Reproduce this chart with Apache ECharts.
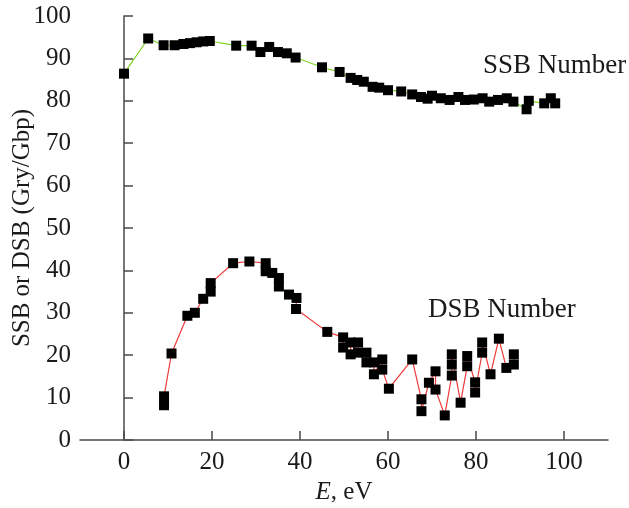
<!DOCTYPE html>
<html>
<head>
<meta charset="utf-8">
<script src="https://cdn.jsdelivr.net/npm/echarts@6/dist/echarts.min.js"></script>
<style>
  html, body { margin: 0; padding: 0; background: #fff; }
  #chart { width: 629px; height: 508px; }
</style>
</head>
<body>
<div id="chart"></div>
<script>
// Single-strand break yield vs. electron energy (E, eV)
const ssbEnergy = [0, 5.5, 9, 11.5, 13.5, 15, 16.5, 18, 19.5, 25.5, 29, 31, 33, 35, 37, 39,
  45, 49, 51.5, 53, 54.5, 56.5, 58, 60, 63, 65.5, 67.5, 69, 70, 72, 74, 76, 77.5, 79.5,
  81.5, 83, 85, 87, 88.5, 91.5, 92, 95.5, 97, 98];
const ssbValues = [86.4, 94.7, 93.1, 93.1, 93.4, 93.6, 93.8, 94, 94.1, 93, 93, 91.5, 92.7, 91.5, 91.2, 90.2,
  87.9, 86.8, 85.4, 84.9, 84.5, 83.3, 83.1, 82.5, 82.2, 81.5, 80.9, 80.5, 81.2, 80.6, 80.2, 80.9, 80.2, 80.3,
  80.6, 79.8, 80.2, 80.6, 79.8, 78, 80, 79.4, 80.6, 79.4];

// Double-strand break yield vs. electron energy
const dsbEnergy = [9.1, 9.1, 10.8, 14.4, 16.1, 18, 19.7, 19.7, 24.8, 28.5, 32.2, 32.2, 33.7, 35.2, 35.2,
  37.5, 39.2, 39.1, 46.2, 49.8, 49.8, 51.5, 51.5, 53.2, 53.2, 55.1, 55.1, 56.8, 56.8, 58.7, 58.7,
  60.2, 65.5, 67.6, 67.6, 69.3, 70.8, 70.8, 72.9, 74.5, 74.5, 74.5, 76.5, 78, 78, 79.8, 79.8,
  81.4, 81.4, 83.3, 85.2, 86.9, 88.6, 88.6];
const dsbValues = [8.2, 10.3, 20.4, 29.3, 30, 33.3, 35, 37, 41.7, 42.1, 41.7, 39.8, 39.4, 38.2, 36.2,
  34.3, 33.5, 30.9, 25.5, 24.2, 21.8, 23, 20.2, 23, 20.6, 20.6, 18.3, 18.3, 15.5, 19, 16.6,
  12.1, 19, 9.6, 6.8, 13.5, 16.2, 11.9, 5.8, 15.2, 17.8, 20.2, 8.8, 17.4, 19.8, 13.6, 11.2,
  20.6, 23, 15.5, 23.9, 17, 17.8, 20.2];

const xTickValues = [0, 20, 40, 60, 80, 100];
const yTickValues = [0, 10, 20, 30, 40, 50, 60, 70, 80, 90, 100];

const serif = '"Liberation Serif", "Times New Roman", serif';
const axisColor = '#4a4a4a';

const pairs = (xs, ys) => xs.map((x, i) => [x, ys[i]]);

const chart = echarts.init(document.getElementById('chart'), null, { renderer: 'canvas' });

chart.setOption({
  backgroundColor: '#ffffff',
  animation: false,
  grid: { left: 80, right: 21, top: 16, bottom: 68, containLabel: false, outerBoundsMode: 'none' },
  xAxis: {
    type: 'value',
    min: -10,
    max: 110,
    name: '{it|E}, eV',
    nameLocation: 'middle',
    nameGap: 40,
    nameMoveOverlap: false,
    nameTextStyle: {
      fontFamily: serif, fontSize: 25, color: '#1a1a1a',
      rich: { it: { fontFamily: serif, fontSize: 25, fontStyle: 'italic', color: '#1a1a1a' } }
    },
    axisLine: { show: true, onZero: false, lineStyle: { color: axisColor, width: 1.5 } },
    axisTick: { show: true, inside: true, length: 9, customValues: xTickValues,
      lineStyle: { color: axisColor, width: 1.5 } },
    axisLabel: { customValues: xTickValues, fontFamily: serif, fontSize: 25, color: '#1a1a1a', margin: 10 },
    splitLine: { show: false }
  },
  yAxis: {
    type: 'value',
    min: 0,
    max: 100,
    interval: 10,
    name: 'SSB or DSB (Gry/Gbp)',
    nameLocation: 'middle',
    nameGap: 45,
    nameMoveOverlap: false,
    nameTextStyle: { fontFamily: serif, fontSize: 25, color: '#1a1a1a' },
    axisLine: { show: true, lineStyle: { color: axisColor, width: 1.5 } },
    axisTick: { show: true, inside: true, length: 9, customValues: yTickValues,
      lineStyle: { color: axisColor, width: 1.5 } },
    axisLabel: { customValues: yTickValues, fontFamily: serif, fontSize: 25, color: '#1a1a1a', margin: 9 },
    splitLine: { show: false }
  },
  series: [
    {
      name: 'SSB Number',
      type: 'line',
      data: pairs(ssbEnergy, ssbValues),
      symbol: 'rect',
      symbolSize: 10,
      showAllSymbol: true,
      itemStyle: { color: '#000000' },
      lineStyle: { color: '#7ed321', width: 1.2 },
      z: 3
    },
    {
      name: 'DSB Number',
      type: 'line',
      data: pairs(dsbEnergy, dsbValues),
      symbol: 'rect',
      symbolSize: 10,
      showAllSymbol: true,
      itemStyle: { color: '#000000' },
      lineStyle: { color: '#f03a3a', width: 1.2 },
      z: 3
    }
  ],
  graphic: [
    { type: 'text', left: 483, top: 52,
      style: { text: 'SSB Number', font: '27px ' + serif, fill: '#1a1a1a' } },
    { type: 'text', left: 428, top: 296,
      style: { text: 'DSB Number', font: '27px ' + serif, fill: '#1a1a1a' } }
  ]
});
</script>
</body>
</html>
